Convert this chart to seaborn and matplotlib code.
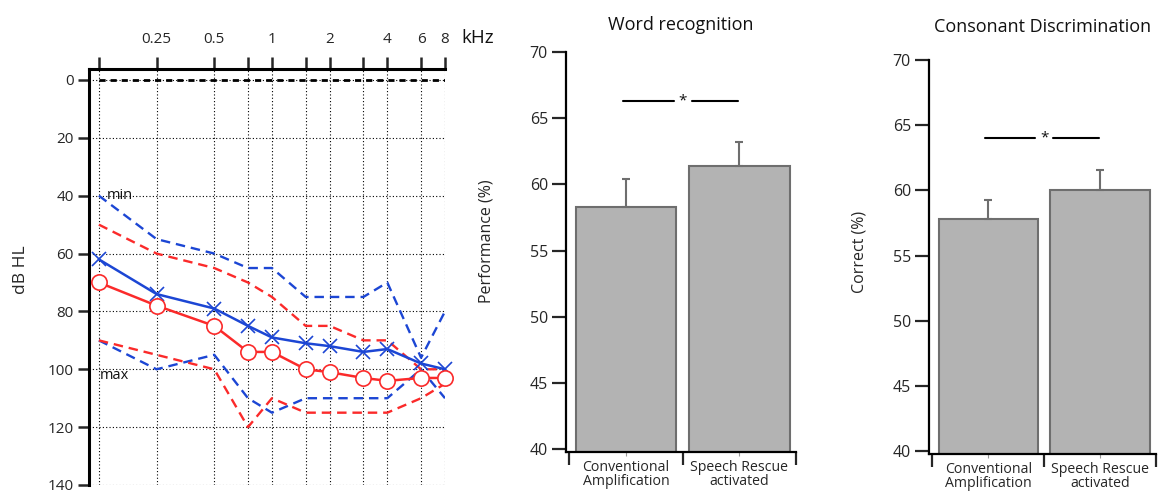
import matplotlib
matplotlib.use("Agg")
import matplotlib.pyplot as plt
import seaborn as sns
from matplotlib.ticker import NullLocator

# Audiogram data (dB HL per frequency)
freqs_khz = [0.125, 0.25, 0.5, 0.75, 1, 1.5, 2, 3, 4, 6, 8]
freq_labels = ["", "0.25", "0.5", "", "1", "", "2", "", "4", "6", "8"]
blue_mean = [62, 74, 79, 85, 89, 91, 92, 94, 93, 98, 100]
red_mean = [70, 78, 85, 94, 94, 100, 101, 103, 104, 103, 103]
blue_min = [40, 55, 60, 65, 65, 75, 75, 75, 70, 96, 80]
blue_max = [90, 100, 95, 110, 115, 110, 110, 110, 110, 100, 110]
red_min = [50, 60, 65, 70, 75, 85, 85, 90, 90, 100, 100]
red_max = [90, 95, 100, 120, 110, 115, 115, 115, 115, 110, 105]
db_ticks = [0, 20, 40, 60, 80, 100, 120, 140]

# Bar chart data
conditions = ["Conventional\nAmplification", "Speech Rescue\nactivated"]
word_mean = [58.3, 61.4]
word_sem = [2.1, 1.8]
word_sig_y = 66.3
cons_mean = [57.8, 60.05]
cons_sem = [1.45, 1.55]
cons_sig_y = 64.0
pct_ticks = [40, 45, 50, 55, 60, 65, 70]

BLUE = "#1c46d4"
RED = "#fb2a2a"
BAR_FILL = "#b3b3b3"
BAR_EDGE = "#6e6e6e"

sns.set_style("ticks")
plt.rcParams["font.family"] = ["Open Sans", "DejaVu Sans"]
plt.rcParams["font.size"] = 11
plt.rcParams["text.color"] = "#111111"

fig = plt.figure(figsize=(11.63, 4.93), dpi=100)
W, H = 1163, 493


def px_axes(left, top, right, bottom):
    return fig.add_axes([left / W, 1 - bottom / H, (right - left) / W, (bottom - top) / H])


# ---------------- Audiogram ----------------
ax = px_axes(89, 69, 445, 485)
ax.set_xscale("log", base=2)

dash = (0, (4, 2.5))
sns.lineplot(x=freqs_khz, y=blue_min, ax=ax, color=BLUE, linestyle=dash, linewidth=1.7)
sns.lineplot(x=freqs_khz, y=blue_max, ax=ax, color=BLUE, linestyle=dash, linewidth=1.7)
sns.lineplot(x=freqs_khz, y=red_min, ax=ax, color=RED, linestyle=dash, linewidth=1.7)
sns.lineplot(x=freqs_khz, y=red_max, ax=ax, color=RED, linestyle=dash, linewidth=1.7)
sns.lineplot(x=freqs_khz, y=blue_mean, ax=ax, color=BLUE, linewidth=1.8,
             marker="x", markersize=10, markeredgewidth=1.2, markeredgecolor=BLUE,
             clip_on=False, zorder=4)
sns.lineplot(x=freqs_khz, y=red_mean, ax=ax, color=RED, linewidth=1.8,
             marker="o", markersize=11, markerfacecolor="white",
             markeredgewidth=1.2, markeredgecolor=RED, clip_on=False, zorder=5)

ax.hlines(0, freqs_khz[0], freqs_khz[-1], colors="black",
          linestyles=(0, (2.2, 1.8)), linewidth=2.0, zorder=3)

ax.set_xlim(0.111, 8)
ax.set_ylim(140, -3.8)
ax.xaxis.tick_top()
ax.set_xticks(freqs_khz)
ax.set_xticklabels(freq_labels)
ax.xaxis.set_minor_locator(NullLocator())
ax.set_yticks(db_ticks)
ax.grid(True, color="black", linestyle=(0, (1, 2)), linewidth=0.8)
ax.tick_params(axis="x", top=True, bottom=False, direction="out",
               length=9, width=1.8, pad=7, labelsize=11)
ax.tick_params(axis="y", direction="out", length=8, width=1.8, pad=3, labelsize=11)
for s in ["bottom", "right"]:
    ax.spines[s].set_visible(False)
for s in ["top", "left"]:
    ax.spines[s].set_linewidth(2.2)
    ax.spines[s].set_color("black")
ax.set_xlabel("")
ax.set_ylabel("dB HL", fontsize=12.5)
ax.yaxis.set_label_coords(-0.168, 0.517)
ax.text(1.047, 1.075, "kHz", transform=ax.transAxes, fontsize=13.5, va="center", ha="left")
ax.text(0.137, 40, "min", fontsize=10.5, va="center", ha="left")
ax.text(0.1265, 102, "max", fontsize=10.5, va="center", ha="left")


# ---------------- Bar panels ----------------
def bar_panel(axb, means, sems, sig_y, title, ylabel, title_pad, label_x, label_y):
    sns.barplot(x=conditions, y=means, ax=axb, color=BAR_FILL, edgecolor=BAR_EDGE,
                linewidth=1.5, width=0.89, errorbar=None, saturation=1)
    axb.errorbar(x=[0, 1], y=means, yerr=[[0, 0], sems], fmt="none",
                 ecolor=BAR_EDGE, elinewidth=1.5, capsize=3, capthick=1.5, zorder=1)
    axb.set_xlim(-0.53, 1.5)
    axb.set_ylim(39.8, 70)
    axb.set_yticks(pct_ticks)
    axb.set_xticks([-0.5, 0.5, 1.5])
    axb.set_xticklabels(["", "", ""])
    axb.set_xticks([0, 1], conditions, minor=True)
    for lbl in axb.get_xticklabels(minor=True):
        lbl.set_linespacing(0.95)
    axb.tick_params(axis="x", which="major", length=9, width=1.6, direction="out")
    axb.tick_params(axis="x", which="minor", length=3, width=0.8, color="#999999",
                    pad=2.5, labelsize=10.2)
    axb.tick_params(axis="y", length=10, width=1.6, direction="out", pad=3, labelsize=11.5)
    for s in ["top", "right"]:
        axb.spines[s].set_visible(False)
    for s in ["left", "bottom"]:
        axb.spines[s].set_linewidth(1.6)
        axb.spines[s].set_color("black")
    # significance bracket
    axb.plot([-0.03, 0.42], [sig_y, sig_y], color="black", linewidth=1.5)
    axb.plot([0.58, 0.99], [sig_y, sig_y], color="black", linewidth=1.5)
    axb.text(0.5, sig_y, "*", ha="center", va="center", fontsize=11)
    axb.set_title(title, fontsize=13, pad=title_pad)
    axb.set_xlabel("")
    axb.set_ylabel(ylabel, fontsize=11.5)
    axb.yaxis.set_label_coords(label_x, label_y)


ax1 = px_axes(566, 52, 796, 452)
bar_panel(ax1, word_mean, word_sem, word_sig_y, "Word recognition",
          "Performance (%)", 16, -0.31, 0.526)

ax2 = px_axes(929, 60, 1156, 454)
bar_panel(ax2, cons_mean, cons_sem, cons_sig_y, "Consonant Discrimination",
          "Correct (%)", 20, -0.27, 0.514)

fig.savefig("out.png", dpi=100)
